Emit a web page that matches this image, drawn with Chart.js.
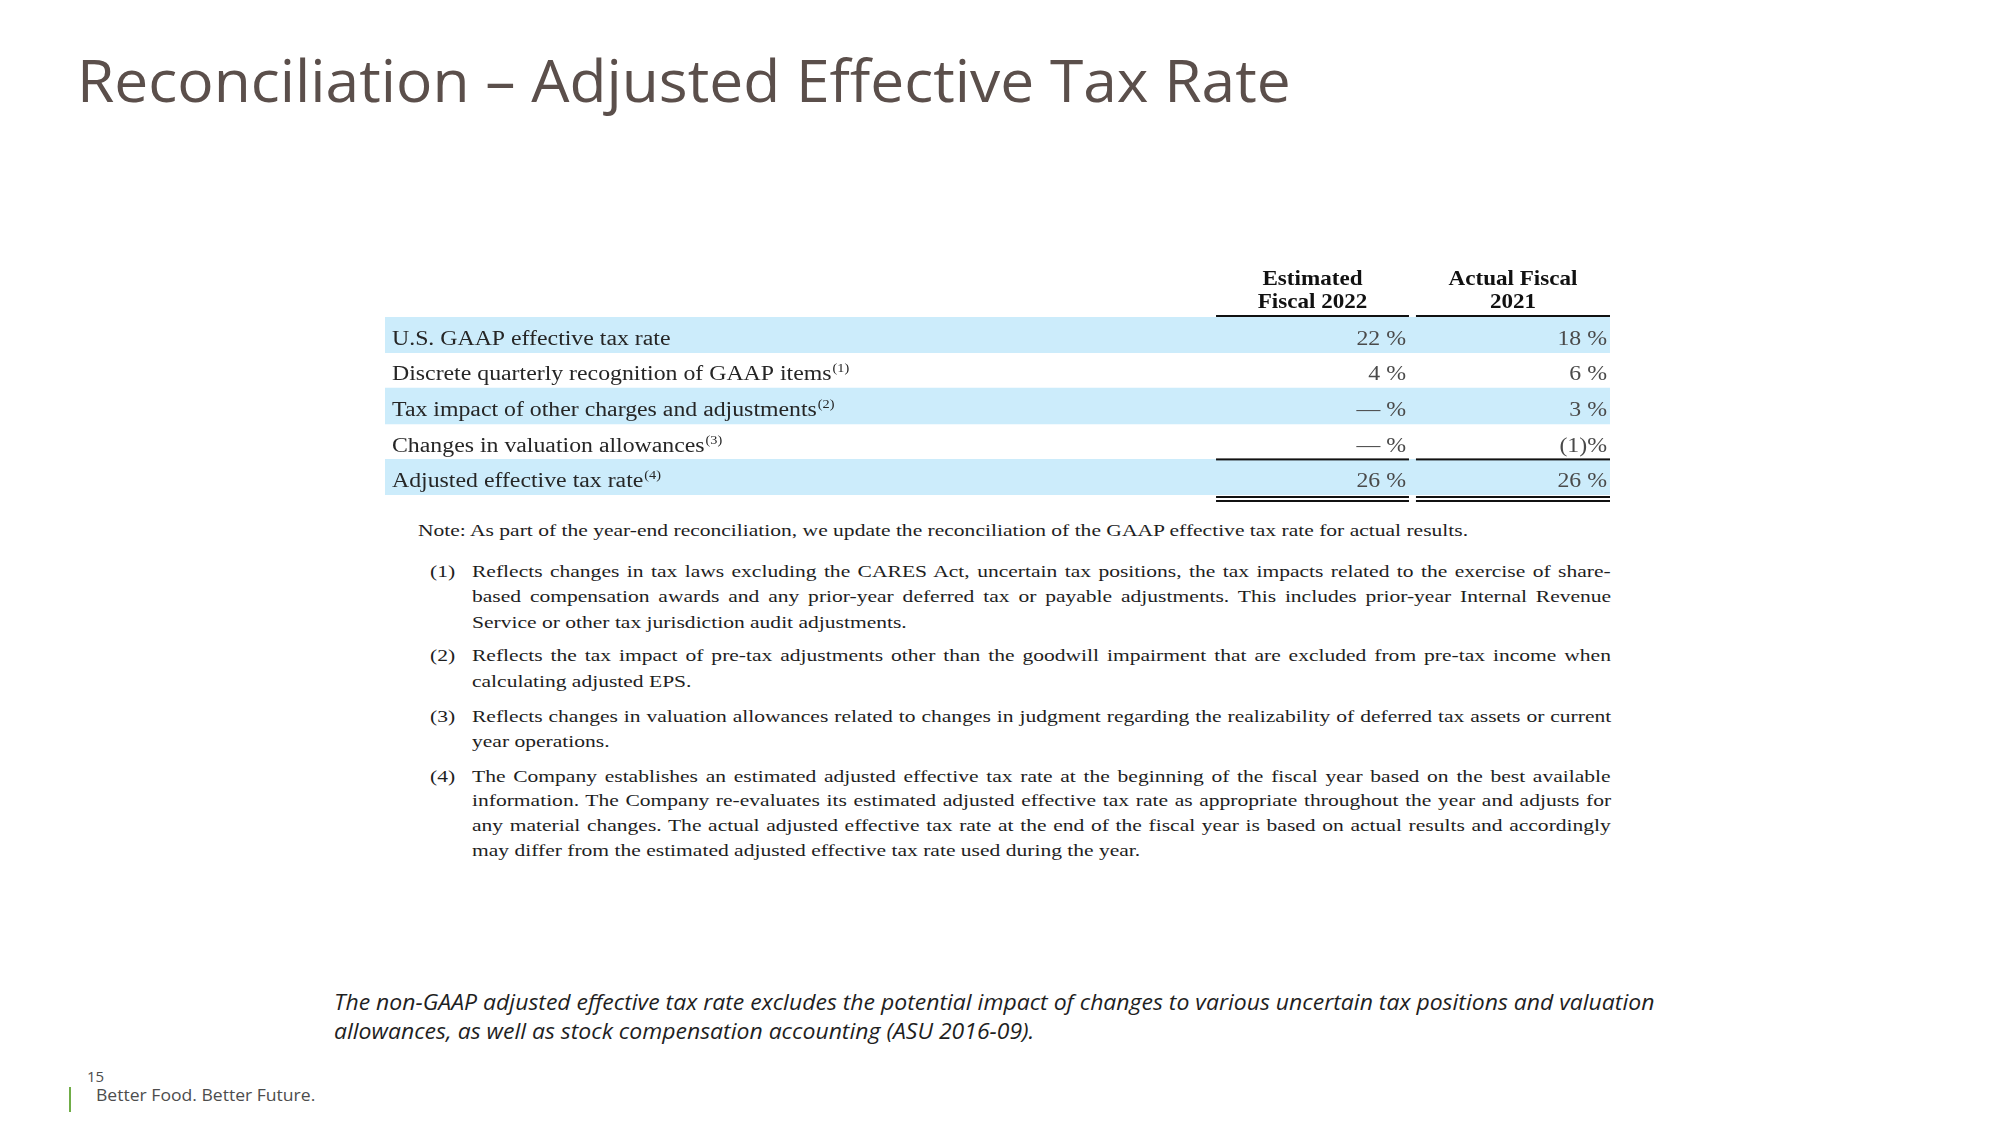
<!DOCTYPE html>
<html>
<head>
<meta charset="utf-8">
<script src="https://cdn.jsdelivr.net/npm/chart.js@4.4.1/dist/chart.umd.min.js"></script>
<style>
  html, body { margin: 0; padding: 0; background: #fff; }
  body { width: 2000px; height: 1125px; position: relative; overflow: hidden; }
  .t { position: absolute; white-space: nowrap; line-height: 1; transform-origin: 0 0; }
  .title { font-family: "Open Sans", sans-serif; font-size: 59px; color: #5b4f4b; }
  .fn { font-family: "Liberation Serif", "Times New Roman", serif; font-size: 17px; color: #1e1e1e; }
  .it { font-family: "Open Sans", sans-serif; font-style: italic; font-size: 21.5px; color: #1f1f1f; }
  .foot { font-family: "Open Sans", sans-serif; color: #4d4d4d; }
  #bar { position: absolute; left: 69px; top: 1087px; width: 2px; height: 25px; background: #70ad47; }
  #c { position: absolute; left: 385px; top: 240px; }
</style>
</head>
<body>
<div id="bar"></div>
<canvas id="c" width="1225" height="270"></canvas>
<script>
// ---------- data ----------
const titleText = 'Reconciliation \u2013 Adjusted Effective Tax Rate';
const rowLabels = [
  'U.S. GAAP effective tax rate',
  'Discrete quarterly recognition of GAAP items',
  'Tax impact of other charges and adjustments',
  'Changes in valuation allowances',
  'Adjusted effective tax rate'
];
const rowNoteMarks = ['', '(1)', '(2)', '(3)', '(4)'];
const headerEstimated = ['Estimated', 'Fiscal 2022'];
const headerActual = ['Actual Fiscal', '2021'];
const estimatedFiscal2022 = [22, 4, 0, 0, 26];
const actualFiscal2021 = [18, 6, 3, -1, 26];
const shadedRows = [1, 0, 1, 0, 1];
const noteLine = 'Note: As part of the year-end reconciliation, we update the reconciliation of the GAAP effective tax rate for actual results.';
const footnotes = [
  ['(1)', ['Reflects changes in tax laws excluding the CARES Act, uncertain tax positions, the tax impacts related to the exercise of share-',
           'based compensation awards and any prior-year deferred tax or payable adjustments. This includes prior-year Internal Revenue',
           'Service or other tax jurisdiction audit adjustments.']],
  ['(2)', ['Reflects the tax impact of pre-tax adjustments other than the goodwill impairment that are excluded from pre-tax income when',
           'calculating adjusted EPS.']],
  ['(3)', ['Reflects changes in valuation allowances related to changes in judgment regarding the realizability of deferred tax assets or current',
           'year operations.']],
  ['(4)', ['The Company establishes an estimated adjusted effective tax rate at the beginning of the fiscal year based on the best available',
           'information. The Company re-evaluates its estimated adjusted effective tax rate as appropriate throughout the year and adjusts for',
           'any material changes. The actual adjusted effective tax rate at the end of the fiscal year is based on actual results and accordingly',
           'may differ from the estimated adjusted effective tax rate used during the year.']]
];
const bottomNote = [
  'The non-GAAP adjusted effective tax rate excludes the potential impact of changes to various uncertain tax positions and valuation',
  'allowances, as well as stock compensation accounting (ASU 2016-09).'
];
const pageNumber = '15';
const slogan = 'Better Food. Better Future.';

function fmtPct(v) {
  if (v === 0) return '\u2014 %';
  if (v < 0) return '(' + (-v) + ')%';
  return v + ' %';
}

// ---------- HTML text helpers ----------
function addText(cls, text, left, baseline, asc, fontSize) {
  const d = document.createElement('div');
  d.className = 't ' + cls;
  d.textContent = text;
  if (fontSize) d.style.fontSize = fontSize + 'px';
  document.body.appendChild(d);
  const fs = parseFloat(getComputedStyle(d).fontSize);
  d.style.left = left + 'px';
  d.style.top = (baseline - asc * fs) + 'px';
  return d;
}
function scaleTo(el, s) { el.style.transform = 'scaleX(' + s + ')'; }
function justify(el, left, right, s) {
  const natural = el.offsetWidth;
  const target = (right - left) / s;
  const spaces = (el.textContent.match(/ /g) || []).length;
  if (spaces) el.style.wordSpacing = ((target - natural) / spaces) + 'px';
}

// title
const title = addText('title', titleText, 77, 102, 0.888);
scaleTo(title, 1214 / title.offsetWidth);

// footnotes
const SERIF_ASC = 0.8375;
const note = addText('fn', noteLine, 418, 536, SERIF_ASC);
const fnScale = 1050 / note.offsetWidth;
scaleTo(note, fnScale);
const fnBaselines = [[577, 602, 628], [661, 687], [722, 747], [782, 806, 831, 856]];
footnotes.forEach((f, i) => {
  const m = addText('fn', f[0], 430, fnBaselines[i][0], SERIF_ASC);
  scaleTo(m, fnScale);
  f[1].forEach((line, j) => {
    const el = addText('fn', line, 472, fnBaselines[i][j], SERIF_ASC);
    scaleTo(el, fnScale);
    if (j < f[1].length - 1) justify(el, 472, 1611, fnScale);
  });
});

// bottom italic note
const it1 = addText('it', bottomNote[0], 334, 1010, 0.888);
const itScale = 1320 / it1.offsetWidth;
scaleTo(it1, itScale);
const it2 = addText('it', bottomNote[1], 334, 1039, 0.888);
scaleTo(it2, itScale);

// footer
addText('foot', pageNumber, 87, 1082, 0.888, 15);
const sl = addText('foot', slogan, 96, 1101, 0.888, 17);
scaleTo(sl, 219 / sl.offsetWidth);

// ---------- table drawn with Chart.js ----------
const tableColumns = [
  { header: headerEstimated, values: estimatedFiscal2022 },
  { header: headerActual, values: actualFiscal2021 }
];

const tablePlugin = {
  id: 'tableText',
  afterDatasetsDraw(chart, args, opts) {
    const { ctx, chartArea: a, scales: { x, y } } = chart;
    const sx = opts.textScaleX;
    function txt(t, px, py, font, color, align, scale) {
      ctx.save();
      ctx.translate(px, py);
      ctx.scale(scale, 1);
      ctx.font = font;
      ctx.fillStyle = color;
      ctx.textAlign = align;
      ctx.textBaseline = 'alphabetic';
      ctx.fillText(t, 0, 0);
      const w = ctx.measureText(t).width * scale;
      ctx.restore();
      return w;
    }
    const rowPix = rowLabels.map((_, i) => y.getPixelForValue(i));
    const lastSep = (rowPix[rowPix.length - 2] + rowPix[rowPix.length - 1]) / 2;
    // row labels
    rowLabels.forEach((lab, i) => {
      const by = rowPix[i] + opts.baselineShift;
      const w = txt(lab, a.left + 7, by, opts.labelFont, opts.labelColor, 'left', sx);
      if (rowNoteMarks[i]) txt(rowNoteMarks[i], a.left + 7 + w + 1, by - 8, opts.supFont, opts.labelColor, 'left', sx);
    });
    // columns
    tableColumns.forEach((col, ci) => {
      const span = opts.columnSpans[ci];
      const l = x.getPixelForValue(span[0]);
      const r = x.getPixelForValue(span[1]);
      const cx = (l + r) / 2;
      txt(col.header[0], cx, a.top - 32, opts.headerFont, '#111', 'center', opts.headerScaleX);
      txt(col.header[1], cx, a.top - 9, opts.headerFont, '#111', 'center', opts.headerScaleX);
      ctx.fillStyle = '#111';
      ctx.fillRect(l, a.top - 2, r - l, 2);
      ctx.fillRect(l, lastSep - 1, r - l, 2);
      ctx.fillRect(l, a.bottom + 1, r - l, 2);
      ctx.fillRect(l, a.bottom + 5, r - l, 2);
      col.values.forEach((v, i) => {
        txt(fmtPct(v), r - 3, rowPix[i] + opts.baselineShift, opts.valueFont, opts.valueColor, 'right', sx);
      });
    });
  }
};

new Chart(document.getElementById('c'), {
  type: 'bar',
  data: {
    labels: rowLabels,
    datasets: [{
      data: shadedRows.map(s => (s ? [0, 1] : null)),
      backgroundColor: '#ccecfb',
      borderWidth: 0,
      barPercentage: 1,
      categoryPercentage: 1
    }]
  },
  options: {
    indexAxis: 'y',
    responsive: false,
    devicePixelRatio: 1,
    animation: false,
    events: [],
    layout: { padding: { top: 77, bottom: 15, left: 0, right: 0 } },
    scales: {
      x: { type: 'linear', min: 0, max: 1, display: false },
      y: { type: 'category', display: false, grid: { display: false } }
    },
    plugins: {
      legend: { display: false },
      tooltip: { enabled: false },
      tableText: {
        textScaleX: 1.19,
        headerScaleX: 1.1,
        baselineShift: 10,
        labelFont: '20px "Liberation Serif", serif',
        supFont: '12px "Liberation Serif", serif',
        headerFont: 'bold 21px "Liberation Serif", serif',
        valueFont: '20px "Liberation Serif", serif',
        labelColor: '#262626',
        valueColor: '#4a4a4a',
        columnSpans: [[0.6784, 0.8359], [0.8416, 1.0]]
      }
    }
  },
  plugins: [tablePlugin]
});
</script>
</body>
</html>
